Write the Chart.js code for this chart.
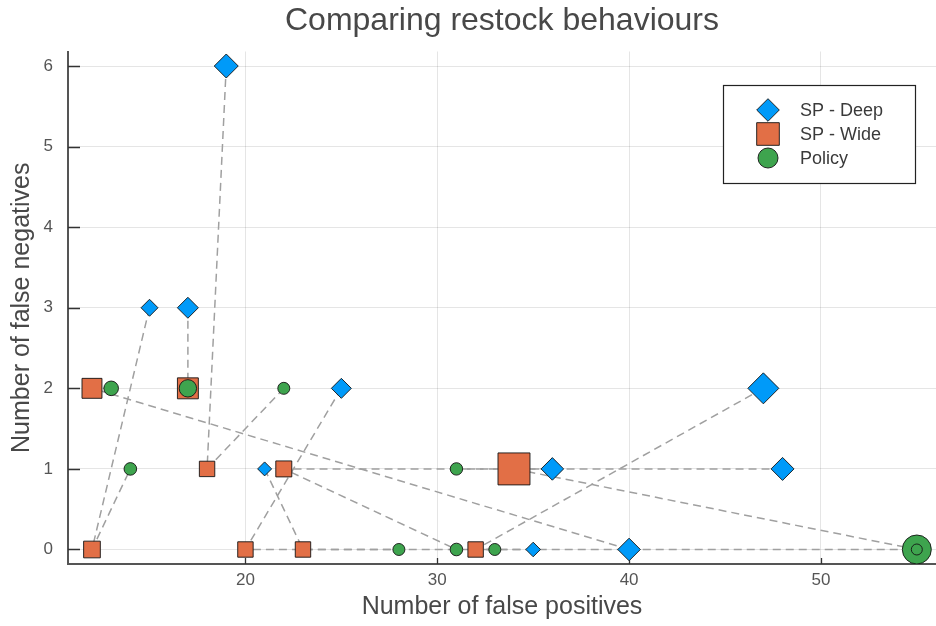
<!DOCTYPE html>
<html>
<head>
<meta charset="utf-8">
<title>Comparing restock behaviours</title>
<script src="https://cdn.jsdelivr.net/npm/chart.js@4.4.1/dist/chart.umd.min.js"></script>
<style>
  html, body { margin: 0; padding: 0; background: #ffffff; overflow: hidden; }
  #wrap { width: 936px; height: 626px; position: relative; }
</style>
</head>
<body>
<div id="wrap"><canvas id="chart" width="936" height="626"></canvas></div>
<script>
// ---- data ----------------------------------------------------------------
const seriesNames = ['SP - Deep', 'SP - Wide', 'Policy'];

// false positives (x) / false negatives (y) per run, for each strategy
const deepX   = [19, 15, 17, 25, 47, 21, 36, 48, 35, 40];
const deepY   = [ 6,  3,  3,  2,  2,  1,  1,  1,  0,  0];
const wideX   = [12, 17, 18, 22, 34, 12, 20, 23, 32];
const wideY   = [ 2,  2,  1,  1,  1,  0,  0,  0,  0];
const policyX = [13, 17, 22, 14, 31, 28, 31, 33, 55, 55];
const policyY = [ 2,  2,  2,  1,  1,  0,  0,  0,  0,  0];

// marker radius of every point (px)
const deepRadius   = [12, 8.5, 10.5, 10, 15.5, 7, 11.3, 11.5, 7.3, 11.3];
const wideRadius   = [14.1, 14.8, 10.9, 11.3, 22.6, 11.8, 10.9, 10.9, 10.9];
const policyRadius = [7.3, 8.7, 6, 6.3, 6.2, 6, 6.3, 6, 14.5, 5.5];

// dashed connectors between the results of the same run (D = deep, W = wide, P = policy)
const runs = [
  ['D0', 'W2', 'P2'], ['D1', 'W5', 'P3'], ['D2', 'W1', 'P1'], ['D9', 'W0', 'P0'],
  ['D7', 'W3', 'P6'], ['D6', 'W4', 'P8'], ['D4', 'W8', 'P7'], ['D3', 'W6', 'P5'],
  ['D5', 'W7', 'P9'], ['D8', 'W8'], ['W4', 'P4']
];

const xTicks = [20, 30, 40, 50];
const yTicks = [0, 1, 2, 3, 4, 5, 6];

// ---- styling -------------------------------------------------------------
const FONT = "'Liberation Sans', Arial, Helvetica, sans-serif";
const COLORS = ['#009AF9', '#E26F46', '#3EA44E'];
const STYLES = ['rectRot', 'rect', 'circle'];
const LEGEND_RADIUS = [11.3, 16, 10];
const MARK_BORDER = 'rgba(20,20,20,0.9)';

const toPoints = (xs, ys) => xs.map((x, i) => ({ x: x, y: ys[i] }));
const series = {
  D: toPoints(deepX, deepY),
  W: toPoints(wideX, wideY),
  P: toPoints(policyX, policyY)
};
const lookup = key => series[key[0]][Number(key.slice(1))];

const pointSets = [
  { pts: series.D, r: deepRadius },
  { pts: series.W, r: wideRadius },
  { pts: series.P, r: policyRadius }
];

const datasets = pointSets.map((s, i) => ({
  type: 'scatter',
  label: seriesNames[i],
  data: s.pts,
  pointStyle: STYLES[i],
  pointRadius: s.r,
  backgroundColor: COLORS[i],
  borderColor: MARK_BORDER,
  borderWidth: 1,
  order: 3 - i
}));

runs.forEach(run => {
  datasets.push({
    type: 'line',
    label: '',
    data: run.map(lookup),
    showLine: true,
    pointRadius: 0,
    borderColor: '#a0a0a0',
    borderWidth: 1.5,
    borderDash: [8, 5],
    fill: false,
    tension: 0,
    order: 10
  });
});

// inward tick marks on both axes
const innerTicks = {
  id: 'innerTicks',
  beforeDatasetsDraw(chart) {
    const { ctx, chartArea: a, scales: { x, y } } = chart;
    ctx.save();
    ctx.strokeStyle = '#333';
    ctx.lineWidth = 1.3;
    ctx.beginPath();
    xTicks.forEach(v => {
      const px = Math.round(x.getPixelForValue(v)) + 0.5;
      ctx.moveTo(px, a.bottom);
      ctx.lineTo(px, a.bottom - 6);
    });
    yTicks.forEach(v => {
      const py = Math.round(y.getPixelForValue(v)) + 0.5;
      ctx.moveTo(a.left, py);
      ctx.lineTo(a.left + 12, py);
    });
    ctx.stroke();
    ctx.restore();
  }
};

// boxed legend in the upper right of the plot
const boxedLegend = {
  id: 'boxedLegend',
  afterDraw(chart) {
    const { ctx, chartArea: a } = chart;
    const w = 192, h = 98;
    const bx = a.right - 21 - w, by = a.top + 33.5;
    ctx.save();
    ctx.fillStyle = '#ffffff';
    ctx.fillRect(bx, by, w, h);
    ctx.strokeStyle = '#222';
    ctx.lineWidth = 1.2;
    ctx.strokeRect(bx + 0.5, by + 0.5, w, h);
    seriesNames.forEach((name, i) => {
      const cy = by + 25 + i * 24;
      ctx.fillStyle = COLORS[i];
      ctx.strokeStyle = MARK_BORDER;
      ctx.lineWidth = 1;
      Chart.helpers.drawPoint(ctx, {
        pointStyle: STYLES[i], radius: LEGEND_RADIUS[i], rotation: 0, borderWidth: 1
      }, bx + 45, cy);
      ctx.fillStyle = '#3a3a3a';
      ctx.font = '18px ' + FONT;
      ctx.textAlign = 'left';
      ctx.textBaseline = 'middle';
      ctx.fillText(name, bx + 77, cy + 1);
    });
    ctx.restore();
  }
};

new Chart(document.getElementById('chart'), {
  type: 'scatter',
  data: { datasets: datasets },
  options: {
    responsive: false,
    animation: false,
    events: [],
    layout: { padding: 0, autoPadding: false },
    plugins: {
      legend: { display: false },
      tooltip: { enabled: false },
      title: {
        display: true,
        text: 'Comparing restock behaviours',
        fullSize: false,
        color: '#484848',
        font: { family: FONT, size: 32, weight: 'normal', lineHeight: 1.2 },
        padding: { top: 2, bottom: 11.1 }
      }
    },
    scales: {
      x: {
        type: 'linear',
        min: 10.75,
        max: 56,
        afterBuildTicks: s => { s.ticks = xTicks.map(v => ({ value: v })); },
        afterFit: s => { s.height = 62; s.paddingLeft = 0; s.paddingRight = 0; },
        grid: { color: 'rgba(0,0,0,0.1)', lineWidth: 1, drawTicks: false },
        border: { display: true, color: '#555', width: 2 },
        ticks: { color: '#555', font: { family: FONT, size: 17 }, padding: 6, maxRotation: 0 },
        title: {
          display: true,
          text: 'Number of false positives',
          color: '#484848',
          font: { family: FONT, size: 25, lineHeight: 1.2 },
          padding: { top: 0, bottom: 4 }
        }
      },
      y: {
        type: 'linear',
        min: -0.18,
        max: 6.18,
        afterBuildTicks: s => { s.ticks = yTicks.map(v => ({ value: v })); },
        afterFit: s => { s.width = 68; s.paddingTop = 0; s.paddingBottom = 0; },
        grid: { color: 'rgba(0,0,0,0.1)', lineWidth: 1, drawTicks: false },
        border: { display: true, color: '#555', width: 2 },
        ticks: { color: '#555', font: { family: FONT, size: 17 }, padding: 15 },
        title: {
          display: true,
          text: 'Number of false negatives',
          color: '#484848',
          font: { family: FONT, size: 25, lineHeight: 1.2 },
          padding: { top: 7, bottom: 0 }
        }
      }
    }
  },
  plugins: [innerTicks, boxedLegend]
});
</script>
</body>
</html>
